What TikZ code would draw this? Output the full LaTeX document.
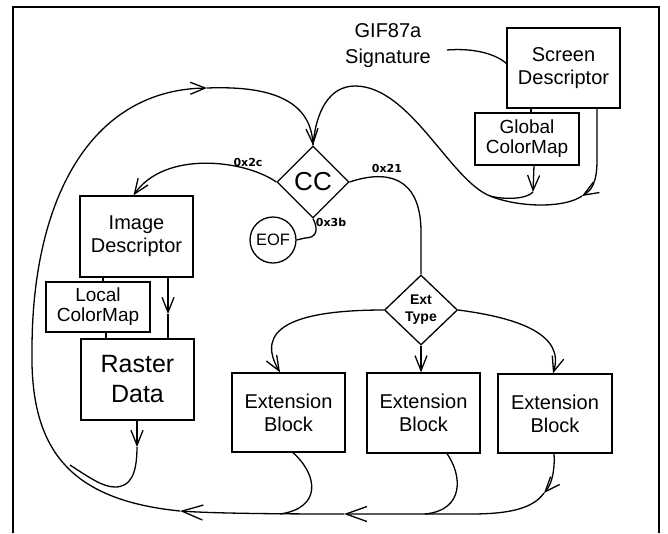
\documentclass[tikz,border=0pt]{standalone}
\usepackage{fontspec}
\setmainfont{Liberation Sans}
\newfontfamily\hexfont{DejaVu Sans}
\usetikzlibrary{shapes.geometric,arrows.meta}
\begin{document}
\begin{tikzpicture}[x=1pt,y=-1pt,
  line width=1.3pt,
  box/.style={draw, rectangle, inner sep=0pt, align=center, font=\fontsize{20}{23}\selectfont},
  mapbox/.style={draw, rectangle, inner sep=0pt, align=center, font=\fontsize{19}{20}\selectfont},
  dia/.style={draw, diamond, aspect=1, inner sep=0pt, align=center},
  hex/.style={font=\hexfont\bfseries\fontsize{11}{13}\selectfont, inner sep=1pt},
  conn/.style={line width=1.3pt},
  arr/.style={conn, -{Straight Barb[length=15pt,width=12pt]}},
  bigarr/.style={conn, -{Straight Barb[length=21pt,width=15pt]}},
]
\useasboundingbox (0,0) rectangle (668,533);
% frame
\draw[line width=1.5pt] (13,533) -- (13,7) -- (659,7) -- (659,533);

% nodes
\node[align=center, font=\fontsize{20}{26}\selectfont] (gif) at (388,46) {GIF87a\\Signature};
\node[box, minimum width=113pt, minimum height=80pt] (SD) at (563.5,68) {Screen\\Descriptor};
\node[mapbox, minimum width=104pt, minimum height=52pt] (GCM) at (527,139) {Global\\ColorMap};
\node[dia, minimum width=72pt, minimum height=72pt, font=\fontsize{26}{30}\selectfont] (CC) at (313,182) {CC};
\node[draw, circle, minimum size=46pt, inner sep=0pt, font=\fontsize{16.5}{18}\selectfont] (EOF) at (273,240) {EOF};
\node[box, minimum width=113pt, minimum height=81pt] (ID) at (136.5,236.5) {Image\\Descriptor};
\node[mapbox, minimum width=104pt, minimum height=50pt] (LCM) at (98,307) {Local\\ColorMap};
\node[box, minimum width=113pt, minimum height=81pt, font=\fontsize{25}{30}\selectfont] (RD) at (137.5,379.5) {Raster\\Data};
\node[dia, minimum width=73pt, minimum height=70pt, font=\bfseries\fontsize{14}{17}\selectfont] (ET) at (421,310) {Ext\\Type};
\node[box, minimum width=113pt, minimum height=79pt] (EB1) at (288.5,412.5) {Extension\\Block};
\node[box, minimum width=113pt, minimum height=80pt] (EB2) at (423.5,413) {Extension\\Block};
\node[box, minimum width=114pt, minimum height=79pt] (EB3) at (555,413.5) {Extension\\Block};

% labels
\node[hex] (l2c) at (248,162) {0x2c};
\node[hex] (l21) at (387,168) {0x21};
\node[hex] (l3b) at (331,222) {0x3b};

% waypoints
\coordinate (gifline) at (447,50);
\coordinate (sdin) at (507,64);
\coordinate (M) at (490,196);
\coordinate (hp) at (355,86);
\coordinate (t4) at (582,196);
\coordinate (t5) at (533,192);
\coordinate (t3) at (544,493);
\coordinate (tb1) at (344,514);
\coordinate (tb2) at (180,511);
\coordinate (lp1) at (32,350);
\coordinate (tl) at (207,88);
\coordinate (tr) at (137,447);
\coordinate (tid) at (168,314);

% GIF signature to screen descriptor
\draw[conn] (gifline) .. controls (472,48) and (495,53) .. (sdin);
% screen descriptor to global colormap
\draw[conn] ([xshift=-32.5pt]SD.south) -- ([xshift=4pt]GCM.north);
% screen descriptor -> CC
\draw[arr] ([xshift=33.5pt]SD.south) -- (597,160) .. controls (597,182) and (592,190) .. (t4);
\draw[conn] (t4) .. controls (565,208) and (520,208) .. (M)
  .. controls (450,180) and (410,86) .. (hp)
  .. controls (330,86) and (316,110) .. (CC.north);
% global colormap -> merge
\draw[arr] ([xshift=7pt]GCM.south) -- (t5);
\draw[conn] (t5) .. controls (527,199) and (505,200) .. (M);

% CC -> Image Descriptor
\draw[arr] (CC.west) .. controls (245,160) and (165,150) .. ([xshift=-3pt]ID.north);
% CC -> Ext Type
\draw[conn] (CC.east) .. controls (385,170) and (420,175) .. (421,230) -- (ET.north);
% CC -> EOF
\draw[conn] (CC.south) .. controls (318,228) and (318,238) .. (305,238) -- (EOF.east);

% Image descriptor chain
\draw[conn] ([xshift=-33.5pt]ID.south) -- ([xshift=5pt]LCM.north);
\draw[conn] ([xshift=8pt]LCM.south) -- ([xshift=-31.5pt]RD.north);
\draw[arr] ([xshift=31.5pt]ID.south) -- (tid);
\draw[conn] (tid) -- ([xshift=30.5pt]RD.north);

% Raster data -> loop
\draw[arr] ([xshift=-0.5pt]RD.south) -- (tr);
\draw[conn] (tr) .. controls (137,475) and (130,487) .. (115,487) .. controls (103,487) and (90,478) .. (70,465);

% Ext type -> extension blocks
\draw[arr] (ET.west) .. controls (290,310) and (255,330) .. ([xshift=-8.5pt]EB1.north);
\draw[arr] (ET.south) -- (ET.south |- EB2.north);
\draw[arr] (ET.east) .. controls (520,318) and (565,335) .. ([xshift=-2pt]EB3.north);

% extension blocks -> bottom return line
\draw[arr] ([xshift=-1pt]EB3.south) .. controls (555,470) and (552,484) .. (t3);
\draw[bigarr] (t3) .. controls (532,510) and (505,514) .. (470,514) -- (tb1);
\draw[conn] ([xshift=23.5pt]EB2.south) .. controls (462,475) and (465,510) .. (425,514);
\draw[conn] ([xshift=4.5pt]EB1.south) .. controls (318,475) and (322,508) .. (280,514);
\draw[bigarr] (tb1) .. controls (260,514) and (210,513) .. (tb2);
\draw[arr] (tb2) .. controls (70,500) and (30,450) .. (lp1)
  .. controls (32,200) and (90,90) .. (tl);
\draw[arr] (tl) .. controls (260,86) and (310,95) .. (CC.north);
\end{tikzpicture}
\end{document}
